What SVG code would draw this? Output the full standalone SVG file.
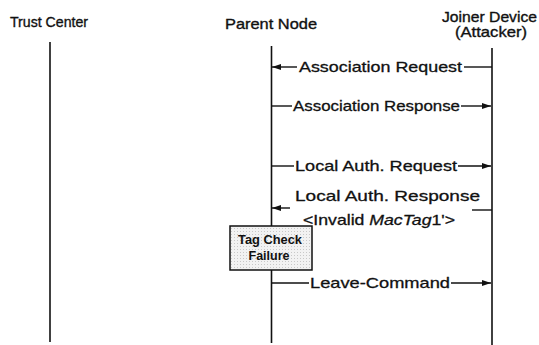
<svg xmlns="http://www.w3.org/2000/svg" width="539" height="345" viewBox="0 0 539 345">
<style>
.hdr{font-family:"Liberation Sans",Arial,sans-serif;font-size:14.5px;fill:#111;stroke:#111;stroke-width:0.35;}
.lbl{font-family:"Liberation Sans",Arial,sans-serif;font-size:15px;fill:#111;stroke:#111;stroke-width:0.3;}
.box{font-family:"Liberation Sans",Arial,sans-serif;font-size:12.5px;font-weight:bold;fill:#111;}
.life{stroke:#111;stroke-width:1.6;fill:none;}
.msg{stroke:#111;stroke-width:1.4;fill:none;}
</style>
<defs>
<marker id="ah" markerUnits="userSpaceOnUse" markerWidth="10" markerHeight="8" refX="9" refY="3.5" orient="auto">
<path d="M0,0.5 L9,3.5 L0,6.5 z" fill="#111"/>
</marker>
<pattern id="stip" width="3" height="3" patternUnits="userSpaceOnUse">
<rect width="3" height="3" fill="#f2f2f2"/>
<rect width="1" height="1" fill="#c8c8c8"/>
</pattern>
</defs>
<rect width="539" height="345" fill="#fff"/>
<g id="trust-center">
<text class="hdr" x="10" y="27" textLength="78" lengthAdjust="spacingAndGlyphs">Trust Center</text>
<line class="life" x1="50" y1="42" x2="50" y2="342"/>
</g>
<g id="parent-node">
<text class="hdr" x="225" y="29" textLength="92" lengthAdjust="spacingAndGlyphs">Parent Node</text>
<line class="life" x1="271.5" y1="46" x2="271.5" y2="343"/>
</g>
<g id="joiner-device">
<text class="hdr" x="442" y="22" textLength="95" lengthAdjust="spacingAndGlyphs">Joiner Device</text>
<text class="hdr" x="455" y="37" textLength="72" lengthAdjust="spacingAndGlyphs">(Attacker)</text>
<line class="life" x1="492" y1="48" x2="492" y2="345"/>
</g>
<g id="tag-check-failure">
<rect x="230" y="226" width="82" height="44" fill="url(#stip)" stroke="#111" stroke-width="1.5"/>
<text class="box" x="270" y="244" text-anchor="middle" textLength="64" lengthAdjust="spacingAndGlyphs">Tag Check</text>
<text class="box" x="269" y="260" text-anchor="middle">Failure</text>
</g>
<g id="connectors">
<line class="msg" x1="297" y1="67" x2="272" y2="67" marker-end="url(#ah)"/>
<line class="msg" x1="464" y1="67" x2="492" y2="67"/>
<text class="lbl" x="299" y="72" textLength="163" lengthAdjust="spacingAndGlyphs">Association Request</text>
<line class="msg" x1="271" y1="106" x2="292" y2="106"/>
<line class="msg" x1="461" y1="106" x2="491" y2="106" marker-end="url(#ah)"/>
<text class="lbl" x="293" y="111" textLength="167" lengthAdjust="spacingAndGlyphs">Association Response</text>
<line class="msg" x1="271" y1="166" x2="294" y2="166"/>
<line class="msg" x1="458" y1="166" x2="491" y2="166" marker-end="url(#ah)"/>
<text class="lbl" x="295" y="171" textLength="162" lengthAdjust="spacingAndGlyphs">Local Auth. Request</text>
<line class="msg" x1="290" y1="208" x2="272" y2="208" marker-end="url(#ah)"/>
<line class="msg" x1="472" y1="210" x2="492" y2="210"/>
<text class="lbl" x="295" y="201" textLength="185" lengthAdjust="spacingAndGlyphs">Local Auth. Response</text>
<text class="lbl" x="303" y="225" textLength="152" lengthAdjust="spacingAndGlyphs">&lt;Invalid <tspan font-style="italic">MacTag</tspan>1'&gt;</text>
<line class="msg" x1="271" y1="283" x2="309" y2="283"/>
<line class="msg" x1="451" y1="283" x2="491" y2="283" marker-end="url(#ah)"/>
<text class="lbl" x="310" y="288" textLength="140" lengthAdjust="spacingAndGlyphs">Leave-Command</text>
</g>
</svg>
